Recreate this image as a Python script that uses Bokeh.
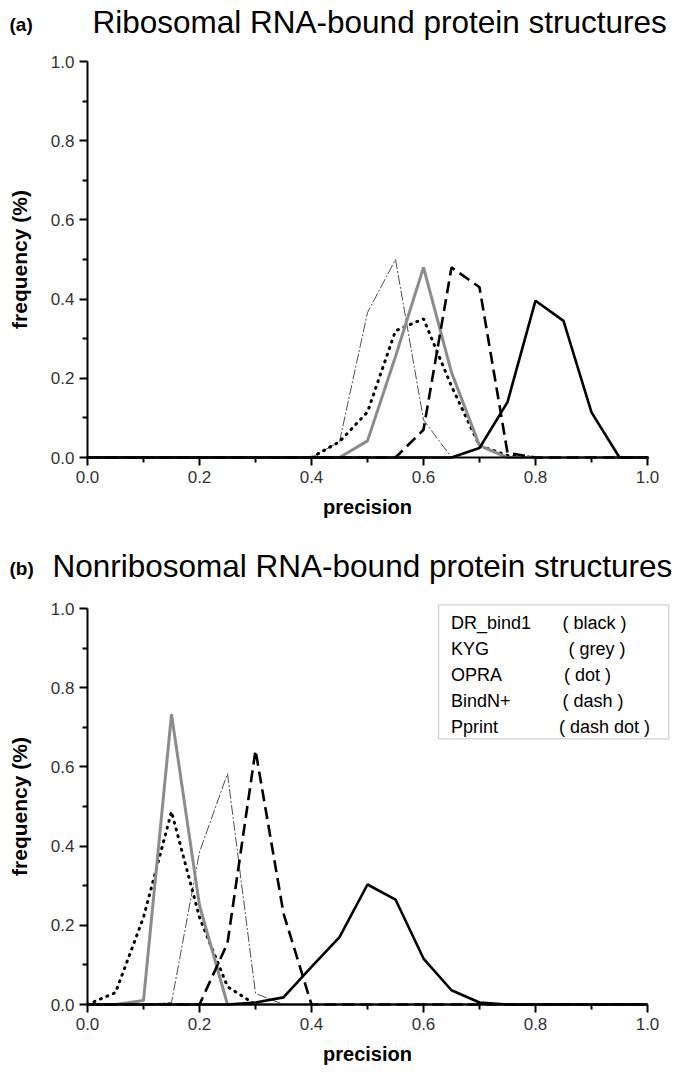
from bokeh.plotting import figure
from bokeh.layouts import column
from bokeh.models import Label, FixedTicker, PrintfTickFormatter, BoxAnnotation
from bokeh.embed import file_html
from bokeh.resources import INLINE

# ---------------- data ----------------
precision = [0.00, 0.05, 0.10, 0.15, 0.20, 0.25, 0.30, 0.35, 0.40, 0.45, 0.50,
             0.55, 0.60, 0.65, 0.70, 0.75, 0.80, 0.85, 0.90, 0.95, 1.00]

# (a) Ribosomal RNA-bound protein structures
a_drbind1 = [0, 0, 0, 0, 0, 0, 0, 0, 0, 0, 0,
             0, 0, 0.0, 0.024, 0.14, 0.396, 0.345, 0.114, 0.0, 0]
a_kyg     = [0, 0, 0, 0, 0, 0, 0, 0, 0, 0.0, 0.042,
             0.255, 0.48, 0.215, 0.03, 0.0, 0, 0, 0, 0, 0]
a_opra    = [0, 0, 0, 0, 0, 0, 0, 0, 0.0, 0.04, 0.115,
             0.32, 0.35, 0.18, 0.03, 0.005, 0.0, 0, 0, 0, 0]
a_bindn   = [0, 0, 0, 0, 0, 0, 0, 0, 0, 0, 0,
             0.0, 0.07, 0.48, 0.43, 0.012, 0.0, 0, 0, 0, 0]
a_pprint  = [0, 0, 0, 0, 0, 0, 0, 0, 0.0, 0.04, 0.366,
             0.50, 0.095, 0.0, 0, 0, 0, 0, 0, 0, 0]

# (b) Nonribosomal RNA-bound protein structures
b_drbind1 = [0, 0, 0, 0, 0, 0.0, 0.005, 0.018, 0.095, 0.17, 0.303,
             0.265, 0.116, 0.036, 0.005, 0.0, 0, 0, 0, 0, 0]
b_kyg     = [0, 0.0, 0.01, 0.733, 0.25, 0.0, 0, 0, 0, 0, 0,
             0, 0, 0, 0, 0, 0, 0, 0, 0, 0]
b_opra    = [0.0, 0.03, 0.22, 0.487, 0.22, 0.045, 0.0, 0, 0, 0, 0,
             0, 0, 0, 0, 0, 0, 0, 0, 0, 0]
b_bindn   = [0, 0, 0, 0, 0.0, 0.155, 0.642, 0.23, 0.0, 0, 0,
             0, 0, 0, 0, 0, 0, 0, 0, 0, 0]
b_pprint  = [0, 0, 0, 0.005, 0.385, 0.583, 0.028, 0.0, 0, 0, 0,
             0, 0, 0, 0, 0, 0, 0, 0, 0, 0]

major_ticks = [0.0, 0.2, 0.4, 0.6, 0.8, 1.0]
minor_ticks = [0.1, 0.3, 0.5, 0.7, 0.9]

legend_names = ["DR_bind1", "KYG", "OPRA", "BindN+", "Pprint"]
legend_styles = ["( black )", "( grey )", "( dot )", "( dash )", "( dash dot )"]

FONT = "Liberation Sans"
W = 675
PX = 560.0   # pixels per unit of precision
PY = 396.0   # pixels per unit of frequency
X_START = -87 / PX
X_END = 1.05


def make_panel(height, below, above, series, tag, title, title_x, tag_y, title_y):
    p = figure(width=W, height=height, x_range=(X_START, X_END),
               y_range=(-below / PY, 1.0 + above / PY),
               output_backend="svg", toolbar_location=None, min_border=0)
    p.title.visible = False
    p.outline_line_color = None
    p.xgrid.grid_line_color = None
    p.ygrid.grid_line_color = None

    drbind1, kyg, opra, bindn, pprint = series
    p.line(precision, pprint, line_color="#222222", line_width=0.8, line_dash="10 2 2 2")
    p.line(precision, opra, line_color="black", line_width=3, line_dash="1 6", line_cap="round")
    p.line(precision, kyg, line_color="#8c8c8c", line_width=3)
    p.line(precision, bindn, line_color="black", line_width=2.6, line_dash="12 6")
    p.line(precision, drbind1, line_color="black", line_width=2.6)

    p.yaxis.fixed_location = 0
    p.xaxis.fixed_location = 0
    for ax in (p.xaxis[0], p.yaxis[0]):
        ax.bounds = (0, 1)
        ax.ticker = FixedTicker(ticks=major_ticks, minor_ticks=minor_ticks)
        ax.formatter = PrintfTickFormatter(format="%.1f")
        ax.axis_line_width = 2
        ax.major_tick_line_width = 2
        ax.minor_tick_line_width = 2
        ax.major_tick_out = 8
        ax.major_tick_in = 0
        ax.minor_tick_out = 5
        ax.minor_tick_in = 0
        ax.major_label_text_font = FONT
        ax.major_label_text_font_size = "17px"
        ax.major_label_text_color = "#333333"
        ax.major_label_standoff = 5
        ax.axis_label_text_font = FONT
        ax.axis_label_text_font_style = "bold"
        ax.axis_label_text_color = "black"
    p.xaxis.axis_label = "precision"
    p.xaxis.axis_label_text_font_size = "20px"
    p.xaxis.axis_label_standoff = 10
    p.yaxis.axis_label = "frequency (%)"
    p.yaxis.axis_label_text_font_size = "21px"
    p.yaxis.axis_label_standoff = 17

    p.add_layout(Label(x=-78 / PX, y=tag_y, text=tag, text_font=FONT,
                       text_font_style="bold", text_font_size="19px",
                       text_color="black",
                       text_baseline="middle", text_align="left"))
    p.add_layout(Label(x=title_x, y=title_y, text=title, text_font=FONT,
                       text_font_size="31.5px", text_color="black",
                       text_baseline="middle", text_align="left"))
    return p


# panel (a): page rows 0..528, y=1 at 61, y=0 at 457
p1 = make_panel(528, 71, 61,
                (a_drbind1, a_kyg, a_opra, a_bindn, a_pprint),
                "(a)", "Ribosomal RNA-bound protein structures",
                5 / PX, (457 - 24) / PY, (457 - 21) / PY)
# panel (b): page rows 528..1071, y=1 at 608, y=0 at 1004
p2 = make_panel(543, 67, 80,
                (b_drbind1, b_kyg, b_opra, b_bindn, b_pprint),
                "(b)", "Nonribosomal RNA-bound protein structures",
                -35 / PX, (1004 - 568) / PY, (1004 - 565) / PY)

# text-only legend box in panel (b)
p2.add_layout(BoxAnnotation(left=0.627, right=1.038, top=1.009, bottom=0.671,
                            fill_color=None, fill_alpha=0,
                            line_color="#666666", line_width=1.2))
row_y = [0.963, 0.897, 0.832, 0.767, 0.701]
style_x = [0.848, 0.859, 0.851, 0.848, 0.842]
for name, sty, yy, sx in zip(legend_names, legend_styles, row_y, style_x):
    p2.add_layout(Label(x=0.649, y=yy, text=name, text_font=FONT, text_color="black",
                        text_font_size="18px", text_baseline="middle"))
    p2.add_layout(Label(x=sx, y=yy, text=sty, text_font=FONT, text_color="black",
                        text_font_size="18px", text_baseline="middle"))

layout = column(p1, p2, spacing=0)
open("out.html", "w").write(file_html(layout, INLINE))
